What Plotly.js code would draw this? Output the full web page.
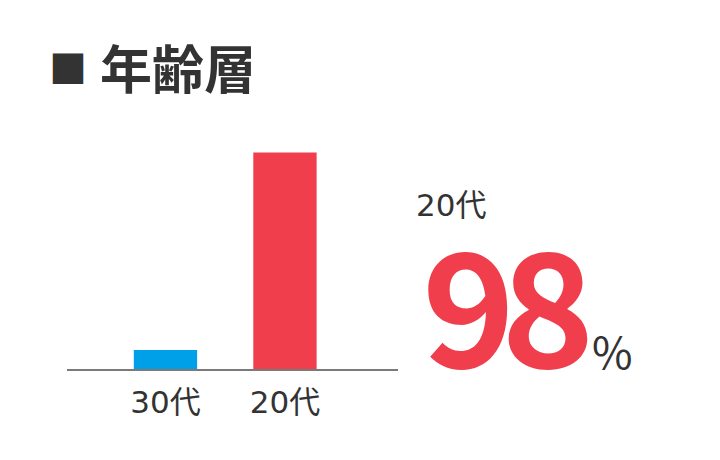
<!DOCTYPE html>
<html>
<head>
<meta charset="utf-8">
<script src="https://cdn.plot.ly/plotly-3.0.1.min.js"></script>
<style>
  html, body { margin: 0; padding: 0; background: #fff; }
  #chart { width: 720px; height: 460px; }
</style>
</head>
<body>
<div id="chart"></div>
<script>
// data
const categories = ['30代', '20代'];
const shares = [8.6, 98];
const barColors = ['#00a0e9', '#f03e4c'];
const topIndex = 1;

const W = 720, H = 460;
const M = { l: 67, r: 322, t: 148, b: 91 };

// pixel -> paper helpers for the annotations outside the plot area
const px = (x) => (x - M.l) / (W - M.l - M.r);
const py = (y) => (H - M.b - y) / (H - M.t - M.b);

const FONT = '"Noto Sans CJK JP", "Noto Sans", sans-serif';
const LABEL_FONT = '"DejaVu Sans", "Noto Sans CJK JP", sans-serif';
const INK = '#333333';

const trace = {
	type: 'bar',
	x: categories.map((c, i) => i),
	y: shares,
	width: 0.53,
	marker: { color: barColors },
	hoverinfo: 'skip',
};

const layout = {
	width: W,
	height: H,
	margin: M,
	paper_bgcolor: '#fff',
	plot_bgcolor: '#fff',
	showlegend: false,
	font: { family: FONT, color: INK },
	xaxis: {
		range: [-0.824, 1.946],
		tickmode: 'array',
		tickvals: categories.map((c, i) => i),
		ticktext: categories,
		tickfont: { size: 31, color: INK, family: LABEL_FONT },
		ticks: '',
		ticklabelstandoff: 5,
		showgrid: false,
		zeroline: false,
		showline: true,
		linecolor: '#7a7a7a',
		linewidth: 1.5,
		fixedrange: true,
	},
	yaxis: {
		range: [0, 100],
		visible: false,
		fixedrange: true,
	},
	annotations: [
		{ text: '■', xref: 'paper', yref: 'paper', x: px(47), y: py(66), xanchor: 'left', yanchor: 'middle',
		  showarrow: false, font: { size: 38, color: INK, family: FONT } },
		{ text: '<b>年齢層</b>', xref: 'paper', yref: 'paper', x: px(98), y: py(66), xanchor: 'left', yanchor: 'middle',
		  showarrow: false, font: { size: 52, color: INK, family: FONT } },
		{ text: categories[topIndex], xref: 'paper', yref: 'paper', x: px(414), y: py(205), xanchor: 'left', yanchor: 'middle',
		  showarrow: false, font: { size: 31, color: INK, family: LABEL_FONT } },
		{ text: '<b>' + Math.round(shares[topIndex]) + '</b>', xref: 'paper', yref: 'paper', x: px(406), y: py(299), xanchor: 'left', yanchor: 'middle',
		  showarrow: false, font: { size: 158, color: barColors[topIndex], family: FONT } },
		{ text: '%', xref: 'paper', yref: 'paper', x: px(590), y: py(350), xanchor: 'left', yanchor: 'middle',
		  showarrow: false, font: { size: 44, color: INK, family: FONT } },
	],
};

Plotly.newPlot('chart', [trace], layout, { displayModeBar: false, staticPlot: true }).then(() => {
	// the big number is set tight in the reference
	const big = document.querySelectorAll('.annotation-text')[3];
	if (big) big.setAttribute('letter-spacing', '-14px');
});
</script>
</body>
</html>
